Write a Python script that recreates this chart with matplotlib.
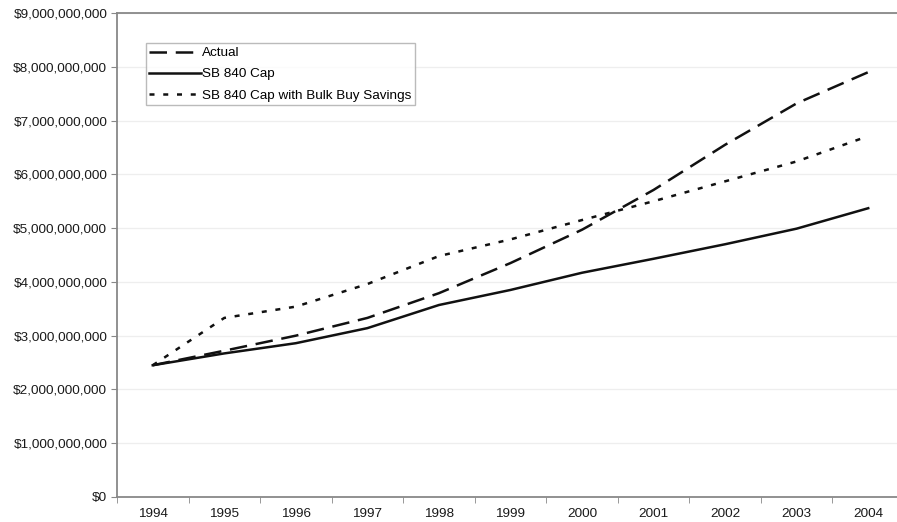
import numpy as np
import matplotlib.pyplot as plt
from matplotlib.ticker import FuncFormatter, FixedLocator

plt.rcParams['font.family'] = ['Liberation Sans', 'DejaVu Sans']

years = ['1994', '1995', '1996', '1997', '1998', '1999',
         '2000', '2001', '2002', '2003', '2004']
actual = [2.45, 2.72, 3.00, 3.33, 3.79, 4.35, 4.97, 5.71, 6.55, 7.32, 7.90]
sb840_cap = [2.45, 2.67, 2.86, 3.14, 3.57, 3.85, 4.17, 4.43, 4.70, 4.99, 5.37]
bulk_buy = [2.45, 3.33, 3.54, 3.96, 4.48, 4.79, 5.15, 5.50, 5.87, 6.24, 6.71]

x = np.arange(len(years))
scale = 1e9

fig = plt.figure(figsize=(8.97, 5.22), dpi=100)
ax = fig.add_axes([0.1304, 0.0479, 0.8774, 0.9272])

ax.plot(x, np.array(actual) * scale, color='#111111', lw=1.8,
        dashes=(7, 3.5), label='Actual')
ax.plot(x, np.array(sb840_cap) * scale, color='#111111', lw=1.8,
        label='SB 840 Cap')
ax.plot(x, np.array(bulk_buy) * scale, color='#111111', lw=1.8,
        dashes=(2, 3.5), label='SB 840 Cap with Bulk Buy Savings')

ax.set_xlim(-0.5, len(years) - 0.5)
ax.set_ylim(0, 9e9)
ax.set_yticks(np.arange(0, 9.01e9, 1e9))
ax.yaxis.set_major_formatter(FuncFormatter(lambda v, p: '${:,.0f}'.format(v)))
ax.set_xticks(x)
ax.set_xticklabels(years)
ax.xaxis.set_minor_locator(FixedLocator(np.arange(-0.5, len(years), 1.0)))

ax.tick_params(axis='x', which='major', length=0, pad=8, labelsize=9.7, colors='#1a1a1a')
ax.tick_params(axis='x', which='minor', length=4, direction='out', color='#888888')
ax.tick_params(axis='y', length=4, direction='out', color='#888888', labelsize=9.7,
               labelcolor='#1a1a1a', pad=3)

ax.grid(axis='y', color='#eeeeee', lw=0.9)
ax.set_axisbelow(True)
for side in ['left', 'bottom', 'top']:
    ax.spines[side].set_color('#888888')
    ax.spines[side].set_linewidth(1.3)
ax.spines['right'].set_visible(False)

leg = ax.legend(loc='upper left', bbox_to_anchor=(0.037, 0.937), fontsize=9.7,
                frameon=True, fancybox=False, edgecolor='#aaaaaa',
                handlelength=3.8, handletextpad=0.1, labelspacing=0.65,
                borderpad=0.25, borderaxespad=0)
leg.get_frame().set_linewidth(1.0)

fig.savefig('out.png', dpi=100, facecolor='white')
